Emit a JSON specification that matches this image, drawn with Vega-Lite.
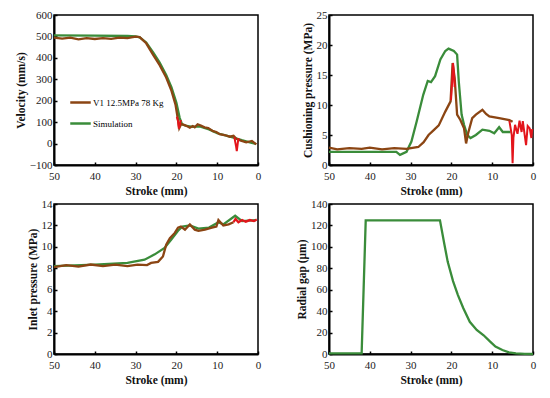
{
  "$schema": "https://vega.github.io/schema/vega-lite/v6.json",
  "background": "white",
  "padding": {"left": 14, "top": 8, "right": 8, "bottom": 2},
  "columns": 2,
  "spacing": {"column": 32, "row": -1},
  "resolve": {"scale": {"color": "independent"}, "legend": {"color": "independent"}},
  "config": {
    "font": "Liberation Serif",
    "view": {"stroke": "black", "strokeWidth": 1.5},
    "axis": {
      "grid": false,
      "domainColor": "black",
      "domainWidth": 2,
      "tickColor": "black",
      "tickSize": -3,
      "tickWidth": 1.5,
      "labelFont": "Liberation Serif",
      "labelFontSize": 11,
      "labelColor": "#222",
      "labelPadding": 5,
      "labelOverlap": false,
      "labelFlush": false,
      "labelBound": false,
      "titleFont": "Liberation Serif",
      "titleFontSize": 11.5,
      "titleFontWeight": "bold",
      "titleColor": "#111",
      "titlePadding": 3
    },
    "axisX": {"labelPadding": 8, "titlePadding": 4},
    "legend": {"labelFont": "Liberation Serif", "labelFontSize": 9}
  },
  "datasets": {
    "vel": [
      {"s": 50, "v": 505, "series": "Simulation"},
      {"s": 40, "v": 504, "series": "Simulation"},
      {"s": 32, "v": 502, "series": "Simulation"},
      {"s": 30, "v": 500, "series": "Simulation"},
      {"s": 29, "v": 496, "series": "Simulation"},
      {"s": 27.4, "v": 472, "series": "Simulation"},
      {"s": 25.7, "v": 425, "series": "Simulation"},
      {"s": 24.1, "v": 378, "series": "Simulation"},
      {"s": 22.5, "v": 320, "series": "Simulation"},
      {"s": 21.2, "v": 262, "series": "Simulation"},
      {"s": 20.0, "v": 190, "series": "Simulation"},
      {"s": 19.2, "v": 120, "series": "Simulation"},
      {"s": 18.6, "v": 90, "series": "Simulation"},
      {"s": 17.5, "v": 82, "series": "Simulation"},
      {"s": 16, "v": 78, "series": "Simulation"},
      {"s": 14.3, "v": 80, "series": "Simulation"},
      {"s": 12, "v": 66, "series": "Simulation"},
      {"s": 10, "v": 48, "series": "Simulation"},
      {"s": 8, "v": 38, "series": "Simulation"},
      {"s": 6, "v": 28, "series": "Simulation"},
      {"s": 4, "v": 16, "series": "Simulation"},
      {"s": 2, "v": 6, "series": "Simulation"},
      {"s": 0.5, "v": -2, "series": "Simulation"},
      {"s": 50, "v": 494, "series": "V1 12.5MPa 78 Kg"},
      {"s": 48, "v": 490, "series": "V1 12.5MPa 78 Kg"},
      {"s": 46, "v": 494, "series": "V1 12.5MPa 78 Kg"},
      {"s": 44, "v": 486, "series": "V1 12.5MPa 78 Kg"},
      {"s": 42, "v": 492, "series": "V1 12.5MPa 78 Kg"},
      {"s": 40, "v": 488, "series": "V1 12.5MPa 78 Kg"},
      {"s": 38, "v": 492, "series": "V1 12.5MPa 78 Kg"},
      {"s": 36, "v": 489, "series": "V1 12.5MPa 78 Kg"},
      {"s": 34, "v": 494, "series": "V1 12.5MPa 78 Kg"},
      {"s": 32, "v": 492, "series": "V1 12.5MPa 78 Kg"},
      {"s": 30, "v": 499, "series": "V1 12.5MPa 78 Kg"},
      {"s": 29, "v": 497, "series": "V1 12.5MPa 78 Kg"},
      {"s": 27.4, "v": 468, "series": "V1 12.5MPa 78 Kg"},
      {"s": 25.7, "v": 414, "series": "V1 12.5MPa 78 Kg"},
      {"s": 24.1, "v": 366, "series": "V1 12.5MPa 78 Kg"},
      {"s": 22.5, "v": 308, "series": "V1 12.5MPa 78 Kg"},
      {"s": 21.2, "v": 246, "series": "V1 12.5MPa 78 Kg"},
      {"s": 20.2, "v": 180, "series": "V1 12.5MPa 78 Kg"},
      {"s": 19.6, "v": 110, "series": "V1 12.5MPa 78 Kg"},
      {"s": 19.3, "v": 72, "series": "V1 12.5MPa 78 Kg"},
      {"s": 18.8, "v": 92, "series": "V1 12.5MPa 78 Kg"},
      {"s": 18.0, "v": 86, "series": "V1 12.5MPa 78 Kg"},
      {"s": 17.2, "v": 80, "series": "V1 12.5MPa 78 Kg"},
      {"s": 16.7, "v": 74, "series": "V1 12.5MPa 78 Kg"},
      {"s": 16.0, "v": 82, "series": "V1 12.5MPa 78 Kg"},
      {"s": 15.5, "v": 76, "series": "V1 12.5MPa 78 Kg"},
      {"s": 14.8, "v": 90, "series": "V1 12.5MPa 78 Kg"},
      {"s": 14.0, "v": 84, "series": "V1 12.5MPa 78 Kg"},
      {"s": 13.1, "v": 76, "series": "V1 12.5MPa 78 Kg"},
      {"s": 12.2, "v": 72, "series": "V1 12.5MPa 78 Kg"},
      {"s": 11.0, "v": 58, "series": "V1 12.5MPa 78 Kg"},
      {"s": 10.2, "v": 54, "series": "V1 12.5MPa 78 Kg"},
      {"s": 9.4, "v": 44, "series": "V1 12.5MPa 78 Kg"},
      {"s": 8.2, "v": 40, "series": "V1 12.5MPa 78 Kg"},
      {"s": 6.9, "v": 32, "series": "V1 12.5MPa 78 Kg"},
      {"s": 6.0, "v": 36, "series": "V1 12.5MPa 78 Kg"},
      {"s": 5.3, "v": 22, "series": "V1 12.5MPa 78 Kg"},
      {"s": 4.2, "v": 14, "series": "V1 12.5MPa 78 Kg"},
      {"s": 2.9, "v": 6, "series": "V1 12.5MPa 78 Kg"},
      {"s": 1.5, "v": 12, "series": "V1 12.5MPa 78 Kg"},
      {"s": 0.4, "v": -4, "series": "V1 12.5MPa 78 Kg"}
    ],
    "velred": [
      {"s": 19.9, "v": 125, "g": "a"},
      {"s": 19.6, "v": 105, "g": "a"},
      {"s": 19.4, "v": 70, "g": "a"},
      {"s": 19.1, "v": 95, "g": "a"},
      {"s": 18.9, "v": 110, "g": "a"},
      {"s": 5.8, "v": 30, "g": "b"},
      {"s": 5.4, "v": -10, "g": "b"},
      {"s": 5.2, "v": -35, "g": "b"},
      {"s": 5.0, "v": -5, "g": "b"},
      {"s": 4.8, "v": 25, "g": "b"}
    ],
    "cush": [
      {"s": 50, "p": 2.2, "series": "Simulation"},
      {"s": 40, "p": 2.2, "series": "Simulation"},
      {"s": 33.5, "p": 2.2, "series": "Simulation"},
      {"s": 32.6, "p": 1.7, "series": "Simulation"},
      {"s": 31.0, "p": 2.2, "series": "Simulation"},
      {"s": 29.8, "p": 3.9, "series": "Simulation"},
      {"s": 28.5, "p": 7.3, "series": "Simulation"},
      {"s": 26.9, "p": 11.7, "series": "Simulation"},
      {"s": 25.8, "p": 14.0, "series": "Simulation"},
      {"s": 25.0, "p": 13.8, "series": "Simulation"},
      {"s": 24.0, "p": 14.8, "series": "Simulation"},
      {"s": 22.7, "p": 17.6, "series": "Simulation"},
      {"s": 21.5, "p": 19.0, "series": "Simulation"},
      {"s": 20.7, "p": 19.4, "series": "Simulation"},
      {"s": 19.4, "p": 19.0, "series": "Simulation"},
      {"s": 18.6, "p": 18.4, "series": "Simulation"},
      {"s": 18.2, "p": 14.0, "series": "Simulation"},
      {"s": 17.5, "p": 8.4, "series": "Simulation"},
      {"s": 16.9, "p": 6.7, "series": "Simulation"},
      {"s": 16.1, "p": 5.0, "series": "Simulation"},
      {"s": 15.3, "p": 4.5, "series": "Simulation"},
      {"s": 14.0, "p": 5.0, "series": "Simulation"},
      {"s": 12.4, "p": 5.9, "series": "Simulation"},
      {"s": 10.7, "p": 5.7, "series": "Simulation"},
      {"s": 9.5, "p": 5.3, "series": "Simulation"},
      {"s": 8.3, "p": 6.3, "series": "Simulation"},
      {"s": 7.4, "p": 5.5, "series": "Simulation"},
      {"s": 5.5, "p": 5.5, "series": "Simulation"},
      {"s": 50, "p": 2.9, "series": "V1 12.5MPa 78 Kg"},
      {"s": 48, "p": 2.6, "series": "V1 12.5MPa 78 Kg"},
      {"s": 45, "p": 2.8, "series": "V1 12.5MPa 78 Kg"},
      {"s": 42, "p": 2.7, "series": "V1 12.5MPa 78 Kg"},
      {"s": 40, "p": 2.9, "series": "V1 12.5MPa 78 Kg"},
      {"s": 37, "p": 2.6, "series": "V1 12.5MPa 78 Kg"},
      {"s": 34, "p": 2.8, "series": "V1 12.5MPa 78 Kg"},
      {"s": 31, "p": 2.7, "series": "V1 12.5MPa 78 Kg"},
      {"s": 28.1, "p": 3.0, "series": "V1 12.5MPa 78 Kg"},
      {"s": 26.8, "p": 3.8, "series": "V1 12.5MPa 78 Kg"},
      {"s": 25.6, "p": 5.0, "series": "V1 12.5MPa 78 Kg"},
      {"s": 24.2, "p": 5.9, "series": "V1 12.5MPa 78 Kg"},
      {"s": 23.1, "p": 6.6, "series": "V1 12.5MPa 78 Kg"},
      {"s": 21.5, "p": 8.9, "series": "V1 12.5MPa 78 Kg"},
      {"s": 20.2, "p": 10.6, "series": "V1 12.5MPa 78 Kg"},
      {"s": 19.7, "p": 17.0, "series": "V1 12.5MPa 78 Kg"},
      {"s": 19.2, "p": 14.5, "series": "V1 12.5MPa 78 Kg"},
      {"s": 18.6, "p": 8.4, "series": "V1 12.5MPa 78 Kg"},
      {"s": 17.8, "p": 7.5, "series": "V1 12.5MPa 78 Kg"},
      {"s": 16.9, "p": 6.1, "series": "V1 12.5MPa 78 Kg"},
      {"s": 16.4, "p": 3.6, "series": "V1 12.5MPa 78 Kg"},
      {"s": 15.9, "p": 5.3, "series": "V1 12.5MPa 78 Kg"},
      {"s": 14.9, "p": 7.8, "series": "V1 12.5MPa 78 Kg"},
      {"s": 14.0, "p": 8.4, "series": "V1 12.5MPa 78 Kg"},
      {"s": 12.4, "p": 9.2, "series": "V1 12.5MPa 78 Kg"},
      {"s": 11.5, "p": 8.5, "series": "V1 12.5MPa 78 Kg"},
      {"s": 10.7, "p": 8.1, "series": "V1 12.5MPa 78 Kg"},
      {"s": 8.3, "p": 7.8, "series": "V1 12.5MPa 78 Kg"},
      {"s": 5.8, "p": 7.5, "series": "V1 12.5MPa 78 Kg"},
      {"s": 5.0, "p": 7.2, "series": "V1 12.5MPa 78 Kg"}
    ],
    "cushred": [
      {"s": 20.1, "p": 10.8, "g": "a"},
      {"s": 19.8, "p": 14.0, "g": "a"},
      {"s": 19.6, "p": 17.0, "g": "a"},
      {"s": 19.4, "p": 15.5, "g": "a"},
      {"s": 19.2, "p": 13.0, "g": "a"},
      {"s": 5.8, "p": 7.4, "g": "b"},
      {"s": 5.2, "p": 5.0, "g": "b"},
      {"s": 5.0, "p": 0.3, "g": "b"},
      {"s": 4.8, "p": 4.5, "g": "b"},
      {"s": 4.4, "p": 6.7, "g": "b"},
      {"s": 3.8, "p": 5.2, "g": "b"},
      {"s": 3.3, "p": 7.4, "g": "b"},
      {"s": 2.8, "p": 5.5, "g": "b"},
      {"s": 2.5, "p": 7.3, "g": "b"},
      {"s": 2.0, "p": 4.8, "g": "b"},
      {"s": 1.7, "p": 3.3, "g": "b"},
      {"s": 1.3, "p": 6.5, "g": "b"},
      {"s": 0.8, "p": 6.1, "g": "b"},
      {"s": 0.4, "p": 4.5, "g": "b"},
      {"s": 0.2, "p": 6.0, "g": "b"}
    ],
    "inlet": [
      {"s": 50, "p": 8.2, "series": "Simulation"},
      {"s": 40, "p": 8.35, "series": "Simulation"},
      {"s": 32, "p": 8.5, "series": "Simulation"},
      {"s": 27.8, "p": 8.8, "series": "Simulation"},
      {"s": 25.3, "p": 9.3, "series": "Simulation"},
      {"s": 22.9, "p": 9.9, "series": "Simulation"},
      {"s": 21.2, "p": 10.7, "series": "Simulation"},
      {"s": 19.6, "p": 11.5, "series": "Simulation"},
      {"s": 18.5, "p": 11.9, "series": "Simulation"},
      {"s": 16.7, "p": 12.0, "series": "Simulation"},
      {"s": 14.6, "p": 11.7, "series": "Simulation"},
      {"s": 12.0, "p": 11.8, "series": "Simulation"},
      {"s": 9.7, "p": 12.3, "series": "Simulation"},
      {"s": 8.5, "p": 12.1, "series": "Simulation"},
      {"s": 5.6, "p": 12.9, "series": "Simulation"},
      {"s": 3.9, "p": 12.4, "series": "Simulation"},
      {"s": 0.5, "p": 12.5, "series": "Simulation"},
      {"s": 50, "p": 8.1, "series": "V1 12.5MPa 78 Kg"},
      {"s": 47, "p": 8.3, "series": "V1 12.5MPa 78 Kg"},
      {"s": 44, "p": 8.15, "series": "V1 12.5MPa 78 Kg"},
      {"s": 41, "p": 8.35, "series": "V1 12.5MPa 78 Kg"},
      {"s": 38, "p": 8.2, "series": "V1 12.5MPa 78 Kg"},
      {"s": 35, "p": 8.35, "series": "V1 12.5MPa 78 Kg"},
      {"s": 32, "p": 8.2, "series": "V1 12.5MPa 78 Kg"},
      {"s": 29.5, "p": 8.35, "series": "V1 12.5MPa 78 Kg"},
      {"s": 27.2, "p": 8.3, "series": "V1 12.5MPa 78 Kg"},
      {"s": 26.2, "p": 8.5, "series": "V1 12.5MPa 78 Kg"},
      {"s": 24.5, "p": 8.6, "series": "V1 12.5MPa 78 Kg"},
      {"s": 23.3, "p": 9.1, "series": "V1 12.5MPa 78 Kg"},
      {"s": 22.5, "p": 10.2, "series": "V1 12.5MPa 78 Kg"},
      {"s": 21.6, "p": 10.8, "series": "V1 12.5MPa 78 Kg"},
      {"s": 20.4, "p": 11.3, "series": "V1 12.5MPa 78 Kg"},
      {"s": 19.6, "p": 11.8, "series": "V1 12.5MPa 78 Kg"},
      {"s": 18.9, "p": 11.9, "series": "V1 12.5MPa 78 Kg"},
      {"s": 17.9, "p": 11.6, "series": "V1 12.5MPa 78 Kg"},
      {"s": 16.7, "p": 12.1, "series": "V1 12.5MPa 78 Kg"},
      {"s": 15.5, "p": 11.6, "series": "V1 12.5MPa 78 Kg"},
      {"s": 14.6, "p": 11.5, "series": "V1 12.5MPa 78 Kg"},
      {"s": 13.0, "p": 11.6, "series": "V1 12.5MPa 78 Kg"},
      {"s": 11.3, "p": 11.8, "series": "V1 12.5MPa 78 Kg"},
      {"s": 10.2, "p": 11.9, "series": "V1 12.5MPa 78 Kg"},
      {"s": 9.7, "p": 12.5, "series": "V1 12.5MPa 78 Kg"},
      {"s": 8.5, "p": 12.0, "series": "V1 12.5MPa 78 Kg"},
      {"s": 7.2, "p": 12.1, "series": "V1 12.5MPa 78 Kg"},
      {"s": 6.0, "p": 12.3, "series": "V1 12.5MPa 78 Kg"}
    ],
    "inletred": [
      {"s": 6.0, "p": 12.3, "g": "a"},
      {"s": 5.5, "p": 12.6, "g": "a"},
      {"s": 4.8, "p": 12.3, "g": "a"},
      {"s": 3.9, "p": 12.5, "g": "a"},
      {"s": 3.0, "p": 12.35, "g": "a"},
      {"s": 2.0, "p": 12.5, "g": "a"},
      {"s": 1.0, "p": 12.4, "g": "a"},
      {"s": 0.3, "p": 12.55, "g": "a"}
    ],
    "gap": [
      {"s": 50, "g": 0.5},
      {"s": 42.0, "g": 0.5},
      {"s": 41.0, "g": 124.7},
      {"s": 22.8, "g": 124.7},
      {"s": 21.7, "g": 102},
      {"s": 20.9, "g": 86},
      {"s": 19.6, "g": 68},
      {"s": 18.4, "g": 55},
      {"s": 17.1, "g": 43},
      {"s": 15.5, "g": 30},
      {"s": 13.8, "g": 22.5},
      {"s": 12.1, "g": 17.5},
      {"s": 10.5, "g": 11.5},
      {"s": 9.2, "g": 6.9},
      {"s": 7.5, "g": 3.7},
      {"s": 5.9, "g": 1.6},
      {"s": 4.2, "g": 0.6},
      {"s": 2, "g": 0.1},
      {"s": 0, "g": 0}
    ]
  },
  "concat": [
    {
      "width": 204, "height": 150,
      "layer": [
        {
          "data": {"name": "vel"},
          "mark": {"type": "line", "strokeWidth": 2.3},
          "encoding": {
            "x": {"field": "s", "type": "quantitative", "scale": {"domain": [0, 50], "reverse": true, "nice": false}, "axis": {"title": "Stroke (mm)", "values": [0, 10, 20, 30, 40, 50], "labelOverlap": false}},
            "y": {"field": "v", "type": "quantitative", "scale": {"domain": [-100, 600], "nice": false}, "axis": {"title": "Velocity (mm/s)", "values": [-100, 0, 100, 200, 300, 400, 500, 600], "labelOverlap": false}},
            "color": {"field": "series", "type": "nominal", "scale": {"domain": ["V1 12.5MPa 78 Kg", "Simulation"], "range": ["#8B4513", "#3A8C3A"]},
              "legend": {"title": null, "orient": "none", "legendX": 15, "legendY": 76, "symbolType": "stroke", "symbolSize": 420, "symbolStrokeWidth": 2.5, "rowPadding": 4, "labelOffset": 1, "padding": 0}}
          }
        },
        {
          "data": {"name": "velred"},
          "mark": {"type": "line", "strokeWidth": 2, "color": "#E3151B"},
          "encoding": {"x": {"field": "s", "type": "quantitative", "axis": {"title": "Stroke (mm)", "values": [0, 10, 20, 30, 40, 50], "labelOverlap": false}}, "y": {"field": "v", "type": "quantitative", "axis": {"title": "Velocity (mm/s)", "values": [-100, 0, 100, 200, 300, 400, 500, 600], "labelOverlap": false}}, "detail": {"field": "g"}}
        }
      ]
    },
    {
      "width": 204, "height": 150,
      "layer": [
        {
          "data": {"name": "cush"},
          "mark": {"type": "line", "strokeWidth": 2.3},
          "encoding": {
            "x": {"field": "s", "type": "quantitative", "scale": {"domain": [0, 50], "reverse": true, "nice": false}, "axis": {"title": "Stroke (mm)", "values": [0, 10, 20, 30, 40, 50], "labelOverlap": false}},
            "y": {"field": "p", "type": "quantitative", "scale": {"domain": [0, 25], "nice": false}, "axis": {"title": "Cushioning pressure (MPa)", "values": [0, 5, 10, 15, 20, 25], "labelOverlap": false}},
            "color": {"field": "series", "type": "nominal", "scale": {"domain": ["V1 12.5MPa 78 Kg", "Simulation"], "range": ["#8B4513", "#3A8C3A"]}, "legend": null}
          }
        },
        {
          "data": {"name": "cushred"},
          "mark": {"type": "line", "strokeWidth": 2, "color": "#E3151B"},
          "encoding": {"x": {"field": "s", "type": "quantitative", "axis": {"title": "Stroke (mm)", "values": [0, 10, 20, 30, 40, 50], "labelOverlap": false}}, "y": {"field": "p", "type": "quantitative", "axis": {"title": "Cushioning pressure (MPa)", "values": [0, 5, 10, 15, 20, 25], "labelOverlap": false}}, "detail": {"field": "g"}}
        }
      ]
    },
    {
      "width": 204, "height": 150,
      "layer": [
        {
          "data": {"name": "inlet"},
          "mark": {"type": "line", "strokeWidth": 2.3},
          "encoding": {
            "x": {"field": "s", "type": "quantitative", "scale": {"domain": [0, 50], "reverse": true, "nice": false}, "axis": {"title": "Stroke (mm)", "values": [0, 10, 20, 30, 40, 50], "labelOverlap": false}},
            "y": {"field": "p", "type": "quantitative", "scale": {"domain": [0, 14], "nice": false}, "axis": {"title": "Inlet  pressure (MPa)", "values": [0, 2, 4, 6, 8, 10, 12, 14], "labelOverlap": false}},
            "color": {"field": "series", "type": "nominal", "scale": {"domain": ["V1 12.5MPa 78 Kg", "Simulation"], "range": ["#8B4513", "#3A8C3A"]}, "legend": null}
          }
        },
        {
          "data": {"name": "inletred"},
          "mark": {"type": "line", "strokeWidth": 2.3, "color": "#E3151B"},
          "encoding": {"x": {"field": "s", "type": "quantitative", "axis": {"title": "Stroke (mm)", "values": [0, 10, 20, 30, 40, 50], "labelOverlap": false}}, "y": {"field": "p", "type": "quantitative", "axis": {"title": "Inlet  pressure (MPa)", "values": [0, 2, 4, 6, 8, 10, 12, 14], "labelOverlap": false}}, "detail": {"field": "g"}}
        }
      ]
    },
    {
      "width": 204, "height": 150,
      "data": {"name": "gap"},
      "mark": {"type": "line", "strokeWidth": 2.3, "color": "#3A8C3A"},
      "encoding": {
        "x": {"field": "s", "type": "quantitative", "scale": {"domain": [0, 50], "reverse": true, "nice": false}, "axis": {"title": "Stroke (mm)", "values": [0, 10, 20, 30, 40, 50], "labelOverlap": false}},
        "y": {"field": "g", "type": "quantitative", "scale": {"domain": [0, 140], "nice": false}, "axis": {"title": "Radial gap (μm)", "values": [0, 20, 40, 60, 80, 100, 120, 140], "labelOverlap": false}}
      }
    }
  ]
}
